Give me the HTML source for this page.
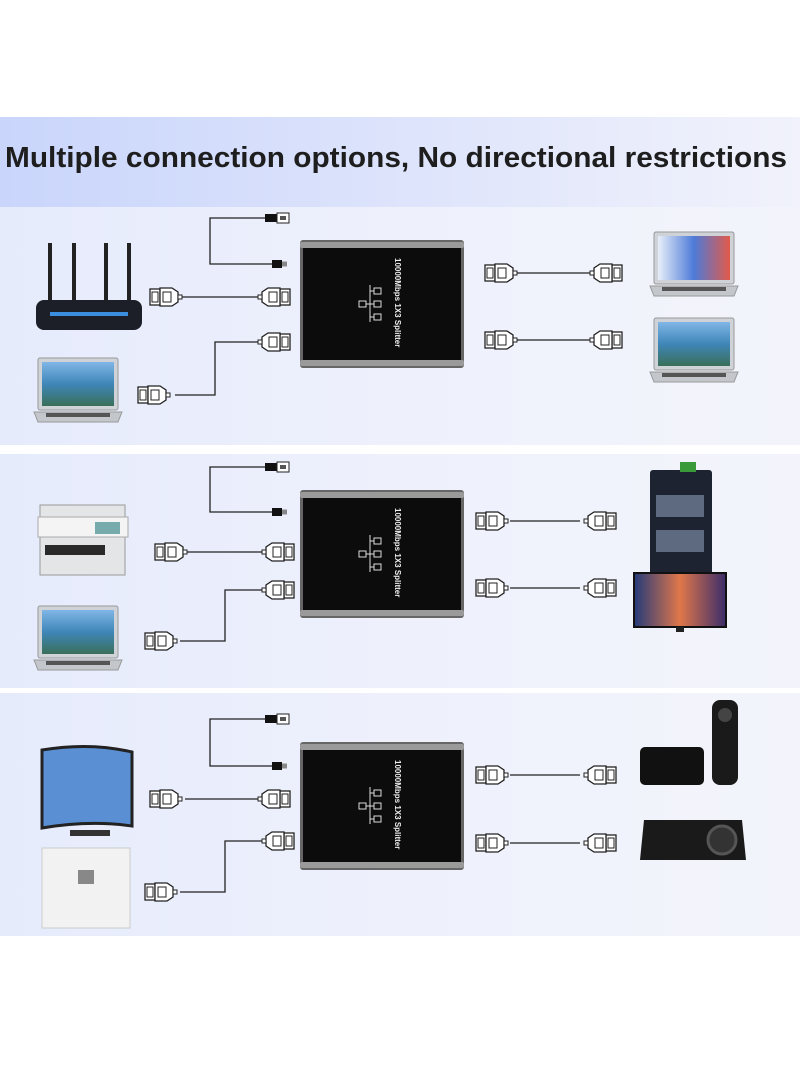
<!DOCTYPE html>
<html><head><meta charset="utf-8"><style>
html,body{margin:0;padding:0;background:#fff;}
svg{display:block;}
</style></head><body>
<svg width="800" height="1091" viewBox="0 0 800 1091" xmlns="http://www.w3.org/2000/svg">
<defs>
<linearGradient id="hdr" x1="0" x2="1"><stop offset="0" stop-color="#c9d5fb"/><stop offset="1" stop-color="#f1f2fb"/></linearGradient>
<linearGradient id="pnl" x1="0" x2="1"><stop offset="0" stop-color="#e6ebfc"/><stop offset="0.5" stop-color="#eef1fc"/><stop offset="1" stop-color="#f3f4fb"/></linearGradient>
<linearGradient id="scr" x1="0" x2="0" y1="0" y2="1"><stop offset="0" stop-color="#7fb6e6"/><stop offset="0.5" stop-color="#3f86b8"/><stop offset="1" stop-color="#3a6f5a"/></linearGradient>
<linearGradient id="scr2" x1="0" x2="1"><stop offset="0" stop-color="#e7eef8"/><stop offset="0.5" stop-color="#4d7ad8"/><stop offset="1" stop-color="#e25a4a"/></linearGradient>
<linearGradient id="tv" x1="0" x2="1"><stop offset="0" stop-color="#243a7a"/><stop offset="0.5" stop-color="#e0774a"/><stop offset="1" stop-color="#3a2c6a"/></linearGradient>
<g id="plugL"><rect x="0" y="-8" width="10" height="16" fill="#fff" stroke="#222" stroke-width="1.3"/><rect x="2" y="-5" width="6" height="10" fill="none" stroke="#222" stroke-width="1"/><path d="M10 -9 h12 l6 4 v10 l-6 4 h-12z" fill="#fff" stroke="#222" stroke-width="1.3"/><rect x="13" y="-5" width="8" height="10" fill="none" stroke="#222" stroke-width="1"/><rect x="28" y="-2" width="4" height="4" fill="#fff" stroke="#222"/></g>
<g id="plugR"><use href="#plugL" transform="scale(-1,1)"/></g>
<g id="usb"><rect x="0" y="-4" width="12" height="8" fill="#111"/><rect x="12" y="-5" width="12" height="10" fill="#fff" stroke="#222"/><rect x="15" y="-2" width="6" height="4" fill="#555"/></g>
<g id="micro"><rect x="0" y="-4" width="10" height="8" fill="#111"/><rect x="10" y="-2.5" width="5" height="5" fill="#888"/></g>
<g id="box">
<rect x="0" y="0" width="164" height="128" rx="3" fill="#666"/>
<rect x="0" y="2" width="164" height="6" rx="2" fill="#9a9a9a"/>
<rect x="0" y="120" width="164" height="6" rx="2" fill="#9a9a9a"/>
<rect x="3" y="8" width="158" height="112" fill="#0c0c0c"/>
<text x="0" y="0" transform="translate(95,18) rotate(90)" font-family="Liberation Sans,sans-serif" font-size="8" font-weight="bold" fill="#eee">10000Mbps 1X3 Splitter</text>
<g fill="none" stroke="#ddd" stroke-width="1"><rect x="59" y="61" width="7" height="6"/><rect x="74" y="48" width="7" height="6"/><rect x="74" y="61" width="7" height="6"/><rect x="74" y="74" width="7" height="6"/><path d="M66 64h8M70 45v37M70 51h4M70 77h4"/></g>
</g>
<g id="laptop"><rect x="4" y="0" width="80" height="52" rx="2" fill="#cfd2d6" stroke="#999"/><rect x="8" y="4" width="72" height="44" fill="url(#scr)"/><path d="M0 54h88l-4 10h-80z" fill="#c3c6ca" stroke="#999"/><rect x="12" y="55" width="64" height="4" fill="#555"/></g>
</defs>
<rect x="0" y="0" width="800" height="1091" fill="#fff"/>
<rect x="0" y="117" width="800" height="90" fill="url(#hdr)"/>
<text x="5" y="167" textLength="782" lengthAdjust="spacingAndGlyphs" font-family="Liberation Sans,sans-serif" font-size="29" font-weight="bold" fill="#1e1e1e">Multiple connection options, No directional restrictions</text>
<rect x="0" y="207" width="800" height="238" fill="url(#pnl)"/>
<rect x="0" y="454" width="800" height="234" fill="url(#pnl)"/>
<rect x="0" y="693" width="800" height="243" fill="url(#pnl)"/>
<g stroke="#222" stroke-width="1.3" fill="none">
<path d="M265 218H210V264H272"/><path d="M180 297H258"/><path d="M175 395H215V342H258"/><path d="M517 273H590"/><path d="M517 340H590"/>
<path d="M265 467H210V512H272"/><path d="M185 552H262"/><path d="M180 641H225V590H262"/><path d="M510 521H580"/><path d="M510 588H580"/>
<path d="M265 719H210V766H272"/><path d="M185 799H262"/><path d="M180 892H225V841H262"/><path d="M510 775H580"/><path d="M510 843H580"/>
</g>
<use href="#box" x="300" y="240"/><use href="#box" x="300" y="490"/><use href="#box" x="300" y="742"/>
<use href="#usb" x="265" y="218"/><use href="#micro" x="272" y="264"/>
<use href="#usb" x="265" y="467"/><use href="#micro" x="272" y="512"/>
<use href="#usb" x="265" y="719"/><use href="#micro" x="272" y="766"/>
<use href="#plugL" transform="translate(150,297)"/><use href="#plugR" transform="translate(290,297)"/>
<use href="#plugL" transform="translate(138,395)"/><use href="#plugR" transform="translate(290,342)"/>
<use href="#plugL" transform="translate(485,273)"/><use href="#plugR" transform="translate(622,273)"/>
<use href="#plugL" transform="translate(485,340)"/><use href="#plugR" transform="translate(622,340)"/>
<use href="#plugL" transform="translate(155,552)"/><use href="#plugR" transform="translate(294,552)"/>
<use href="#plugL" transform="translate(145,641)"/><use href="#plugR" transform="translate(294,590)"/>
<use href="#plugL" transform="translate(476,521)"/><use href="#plugR" transform="translate(616,521)"/>
<use href="#plugL" transform="translate(476,588)"/><use href="#plugR" transform="translate(616,588)"/>
<use href="#plugL" transform="translate(150,799)"/><use href="#plugR" transform="translate(290,799)"/>
<use href="#plugL" transform="translate(145,892)"/><use href="#plugR" transform="translate(294,841)"/>
<use href="#plugL" transform="translate(476,775)"/><use href="#plugR" transform="translate(616,775)"/>
<use href="#plugL" transform="translate(476,843)"/><use href="#plugR" transform="translate(616,843)"/>
<g fill="#222"><rect x="48" y="243" width="4" height="60"/><rect x="72" y="243" width="4" height="60"/><rect x="104" y="243" width="4" height="60"/><rect x="127" y="243" width="4" height="60"/></g>
<rect x="36" y="300" width="106" height="30" rx="8" fill="#1c1f28"/><rect x="50" y="312" width="78" height="4" fill="#3b8de0"/>
<use href="#laptop" x="34" y="358"/>
<use href="#laptop" x="650" y="232"/><rect x="658" y="236" width="72" height="44" fill="url(#scr2)"/>
<use href="#laptop" x="650" y="318"/>
<rect x="40" y="505" width="85" height="70" fill="#e4e5e7" stroke="#999"/><rect x="38" y="517" width="90" height="20" fill="#f4f4f4" stroke="#aaa"/><rect x="45" y="545" width="60" height="10" fill="#2a2a2a"/><rect x="95" y="522" width="25" height="12" fill="#7aa"/>
<use href="#laptop" x="34" y="606"/>
<rect x="650" y="470" width="62" height="105" rx="3" fill="#1d2330"/><rect x="680" y="462" width="16" height="10" fill="#3a9a3a"/>
<g fill="#5d6a80"><rect x="656" y="495" width="48" height="22"/><rect x="656" y="530" width="48" height="22"/></g>
<rect x="634" y="573" width="92" height="54" fill="url(#tv)" stroke="#111" stroke-width="2"/><rect x="676" y="627" width="8" height="5" fill="#222"/>
<path d="M42 750 Q90 742 132 752 V826 Q90 820 42 828Z" fill="#5b8fd3" stroke="#222" stroke-width="3"/><rect x="70" y="830" width="40" height="6" fill="#333"/>
<rect x="42" y="848" width="88" height="80" fill="#f2f2f2" stroke="#ccc"/><rect x="78" y="870" width="16" height="14" fill="#888"/>
<rect x="640" y="747" width="64" height="38" rx="5" fill="#111"/>
<rect x="712" y="700" width="26" height="85" rx="8" fill="#1a1a1a"/><circle cx="725" cy="715" r="7" fill="#444"/>
<path d="M644 820 h98 l4 40 h-106z" fill="#1a1a1a"/><circle cx="722" cy="840" r="14" fill="#333" stroke="#555" stroke-width="3"/>
</svg>
</body></html>
